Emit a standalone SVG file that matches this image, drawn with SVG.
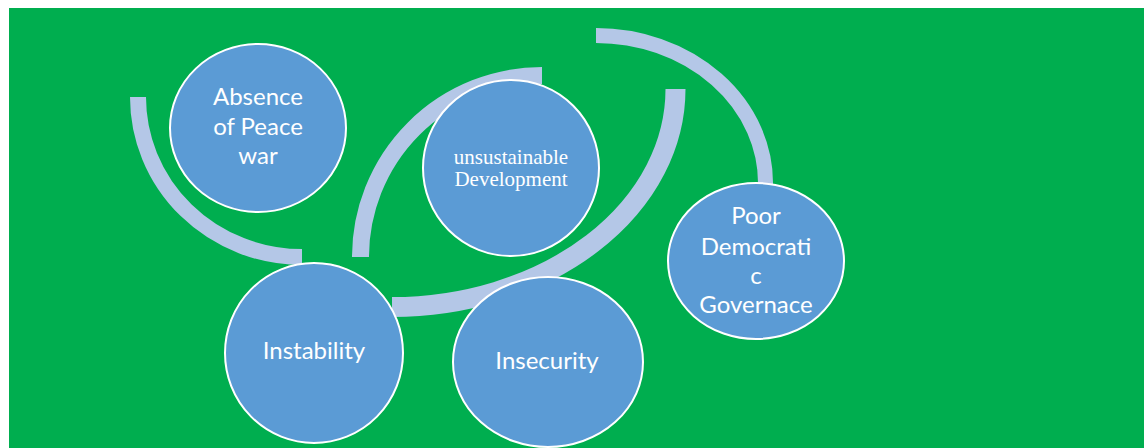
<svg xmlns="http://www.w3.org/2000/svg" width="1144" height="448" viewBox="0 0 1144 448">
<style>
.arc{fill:none;stroke:#B4C7E7;stroke-linecap:butt}
.node{fill:#5B9BD5;stroke:#FFFFFF;stroke-width:2}
.lbl{fill:#FFFFFF;font-family:Lato,"Open Sans","Liberation Sans",sans-serif;font-size:24px;text-anchor:middle}
.ser{fill:#FFFFFF;font-family:"Liberation Serif","Times New Roman",serif;font-size:21px;text-anchor:middle}
</style>
<rect x="0" y="0" width="1144" height="448" fill="#FFFFFF"/>
<rect x="9" y="8" width="1135" height="440" fill="#00AE4F"/>
<g id="connectors">
<path class="arc" stroke-width="16" d="M 138 97 A 164 160 0 0 0 302 257"/>
<path class="arc" stroke-width="17" d="M 542 75.5 A 181.5 181.5 0 0 0 360.5 257"/>
<path class="arc" stroke-width="20" d="M 675.5 89 A 283.5 218 0 0 1 392 307"/>
<path class="arc" stroke-width="15" d="M 596 35.5 A 169.5 147.5 0 0 1 765.5 185"/>
</g>
<g id="node-absence">
<ellipse class="node" cx="258" cy="128" rx="88" ry="84"/>
<text class="lbl" x="258" y="105">Absence</text>
<text class="lbl" x="258" y="135">of Peace</text>
<text class="lbl" x="258" y="164">war</text>
</g>
<g id="node-unsustainable">
<ellipse class="node" cx="511" cy="168" rx="88" ry="88"/>
<text class="ser" x="511" y="164">unsustainable</text>
<text class="ser" x="511" y="186">Development</text>
</g>
<g id="node-instability">
<ellipse class="node" cx="314" cy="353" rx="89" ry="90"/>
<text class="lbl" x="314" y="359">Instability</text>
</g>
<g id="node-insecurity">
<ellipse class="node" cx="548" cy="362" rx="95" ry="85"/>
<text class="lbl" x="547" y="369">Insecurity</text>
</g>
<g id="node-poor-governance">
<ellipse class="node" cx="756" cy="261" rx="88" ry="78"/>
<text class="lbl" x="756" y="224">Poor</text>
<text class="lbl" x="756" y="255">Democrati</text>
<text class="lbl" x="756" y="284">c</text>
<text class="lbl" x="756" y="313">Governace</text>
</g>
</svg>
